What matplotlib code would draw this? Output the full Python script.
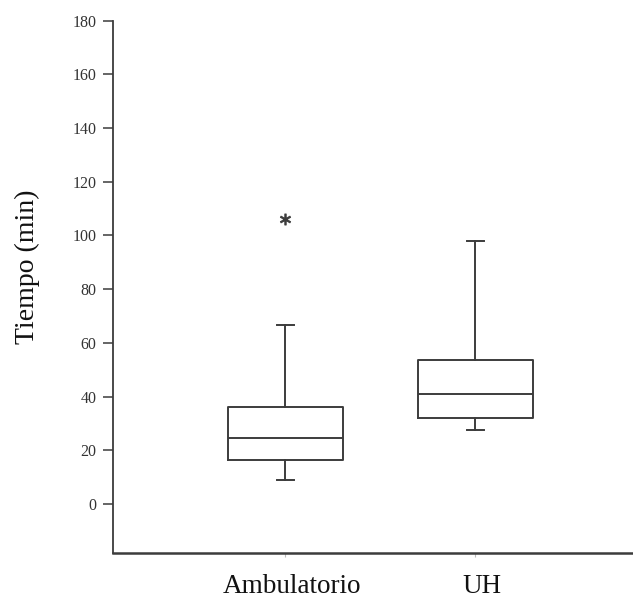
import matplotlib
matplotlib.use("Agg")
import matplotlib.pyplot as plt
from matplotlib.transforms import ScaledTranslation

categories = ["Ambulatorio", "UH"]
whisker_low = [8.9, 27.5]
q1 = [16.3, 32.0]
median = [24.6, 41.1]
q3 = [36.0, 53.6]
whisker_high = [66.6, 98.0]
outliers = [[106.0], []]
y_ticks = [0, 20, 40, 60, 80, 100, 120, 140, 160, 180]

plt.rcParams['font.family'] = ['Liberation Serif', 'DejaVu Serif']
line_col = '#3c3c3c'

fig = plt.figure(figsize=(6.33, 6.01), dpi=100)
ax = fig.add_axes([0.178, 0.080, 0.822, 0.888])

stats = []
for i, c in enumerate(categories):
    stats.append(dict(label=c, whislo=whisker_low[i], q1=q1[i], med=median[i],
                      q3=q3[i], whishi=whisker_high[i], fliers=outliers[i]))

lp = dict(color=line_col, linewidth=1.4)
ax.bxp(stats, positions=[1, 2], widths=0.605, capwidths=0.09,
       boxprops=lp, whiskerprops=lp, capprops=lp, medianprops=lp,
       flierprops=dict(marker=r'$\ast$', markersize=8, markeredgewidth=0.6,
                       markeredgecolor=line_col, markerfacecolor=line_col,
                       linestyle='none'))

ax.set_xlim(0.0926, 2.83)
ax.set_ylim(-18.2, 180.5)
ax.set_yticks(y_ticks)
ax.set_yticklabels([str(v) for v in y_ticks], fontsize=11.5, color='#333333')
ax.set_xticks([1, 2])
ax.set_xticklabels(categories, fontsize=19.5, color='#111111')
ax.tick_params(axis='y', direction='out', length=7.5, width=1.1, color=line_col, pad=4)
ax.tick_params(axis='x', direction='out', length=3, width=0.8, color='#bbbbbb', pad=12)
ax.set_ylabel("Tiempo (min)", fontsize=20, color='#111111')
ax.yaxis.set_label_coords(-0.14, 0.536)

shift = ScaledTranslation(0.07, 0, fig.dpi_scale_trans)
for lbl in ax.get_xticklabels():
    lbl.set_transform(lbl.get_transform() + shift)

for s in ['top', 'right']:
    ax.spines[s].set_visible(False)
ax.spines['left'].set_color(line_col)
ax.spines['left'].set_linewidth(1.3)
ax.spines['left'].set_bounds(-18.2, 180)
ax.spines['bottom'].set_color(line_col)
ax.spines['bottom'].set_linewidth(1.8)

fig.savefig("out.png", dpi=100, facecolor='white')
